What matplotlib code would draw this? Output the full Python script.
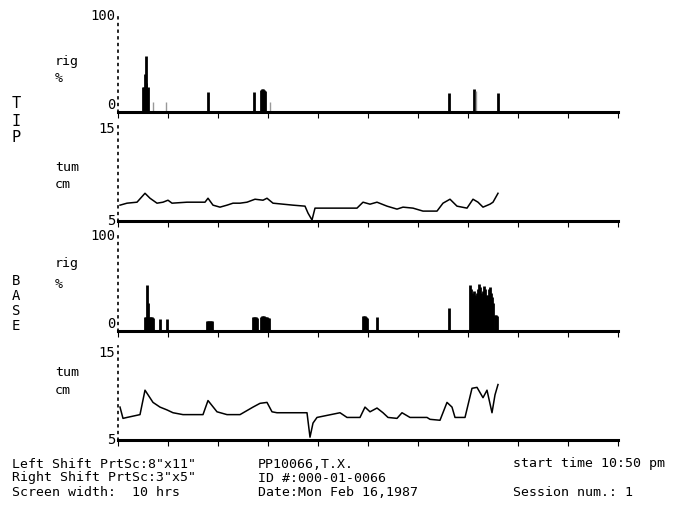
import matplotlib.pyplot as plt

# --- RigiScan session, hours since start ---
tip_rig_t = [0.50, 0.52, 0.54, 0.55, 0.57, 0.59, 1.80, 2.72, 2.86, 2.88, 2.90,
             2.92, 2.94, 6.62, 7.12, 7.60]
tip_rig_v = [26, 26, 40, 58, 30, 26, 21, 21, 23, 24, 24, 23, 22, 20, 24, 20]
tip_faint_t = [0.70, 0.96, 3.04, 7.16]
tip_faint_v = [10, 10, 10, 22]

tip_tum_t = [0.04, 0.18, 0.38, 0.54, 0.64, 0.78, 0.90, 1.00, 1.08, 1.38, 1.74,
             1.80, 1.90, 2.04, 2.18, 2.30, 2.44, 2.58, 2.74, 2.90, 2.98, 3.10,
             3.30, 3.50, 3.74, 3.80, 3.88, 3.94, 4.44, 4.78, 4.90, 5.04, 5.18,
             5.38, 5.58, 5.70, 5.90, 6.10, 6.38, 6.50, 6.64, 6.78, 6.98, 7.10,
             7.20, 7.30, 7.44, 7.50, 7.60]
tip_tum_v = [6.6, 6.8, 6.9, 7.8, 7.3, 6.8, 6.9, 7.1, 6.8, 6.9, 6.9, 7.3, 6.6,
             6.4, 6.6, 6.8, 6.8, 6.9, 7.2, 7.1, 7.3, 6.8, 6.7, 6.6, 6.5, 5.8,
             5.1, 6.3, 6.3, 6.3, 6.9, 6.7, 6.9, 6.5, 6.2, 6.4, 6.3, 6.0, 6.0,
             6.8, 7.2, 6.5, 6.3, 7.2, 6.9, 6.4, 6.7, 6.9, 7.8]

base_rig_t = [0.54, 0.56, 0.58, 0.60, 0.62, 0.64, 0.66, 0.68, 0.70, 0.84, 0.98,
              1.78, 1.80, 1.82, 1.84, 1.86, 1.88, 2.70, 2.72, 2.74, 2.76, 2.78,
              2.86, 2.88, 2.90, 2.92, 2.94, 2.96, 2.98, 3.00, 3.02,
              4.90, 4.92, 4.94, 4.96, 4.98, 5.18, 6.62,
              7.04, 7.06, 7.08, 7.10, 7.12, 7.14, 7.16, 7.18, 7.20, 7.22, 7.24,
              7.26, 7.28, 7.30, 7.32, 7.34, 7.36, 7.38, 7.40, 7.42, 7.44, 7.46,
              7.48, 7.50, 7.54, 7.56, 7.58]
base_rig_v = [15, 15, 48, 30, 15, 15, 15, 15, 14, 13, 13,
              11, 11, 11, 11, 11, 11, 15, 15, 15, 15, 14,
              15, 16, 16, 16, 15, 15, 15, 14, 14,
              16, 16, 16, 15, 14, 15, 24,
              48, 44, 40, 38, 42, 38, 36, 40, 44, 50, 46,
              40, 36, 42, 47, 44, 38, 35, 38, 44, 46, 40,
              36, 30, 17, 17, 16]

base_tum_t = [0.04, 0.10, 0.18, 0.44, 0.54, 0.70, 0.84, 0.98, 1.10, 1.30, 1.70,
              1.80, 1.98, 2.18, 2.44, 2.70, 2.84, 2.98, 3.08, 3.18, 3.78, 3.84,
              3.90, 3.98, 4.44, 4.58, 4.84, 4.94, 5.04, 5.18, 5.30, 5.40, 5.58,
              5.68, 5.84, 6.18, 6.24, 6.44, 6.58, 6.68, 6.74, 6.94, 7.08, 7.18,
              7.30, 7.38, 7.48, 7.54, 7.60]
base_tum_v = [8.5, 7.3, 7.4, 7.7, 10.3, 9.0, 8.5, 8.2, 7.9, 7.7, 7.7, 9.2, 8.0,
              7.7, 7.7, 8.5, 8.9, 9.0, 8.0, 7.9, 7.9, 5.3, 6.8, 7.4, 7.9, 7.4,
              7.4, 8.5, 8.0, 8.4, 7.9, 7.4, 7.3, 7.9, 7.4, 7.4, 7.2, 7.1, 9.0,
              8.5, 7.4, 7.4, 10.5, 10.6, 9.5, 10.3, 7.9, 9.8, 10.9]

hours = list(range(11))
footer_left = ['Left Shift PrtSc:8"x11"', 'Right Shift PrtSc:3"x5"', 'Screen width:  10 hrs']
footer_mid = ['PP10066,T.X.', 'ID #:000-01-0066', 'Date:Mon Feb 16,1987']
footer_right = ['start time 10:50 pm', '', 'Session num.: 1']

MONO = "DejaVu Sans Mono"
W, H = 673, 517
fig = plt.figure(figsize=(W / 100, H / 100), dpi=100)


def panel(top_px, bot_px, ylim, ylabels, va_lo, va_hi):
    ax = fig.add_axes([118 / W, 1 - bot_px / H, 500 / W, (bot_px - top_px) / H])
    ax.set_xlim(0, 10)
    ax.set_ylim(*ylim)
    for s in ["top", "right"]:
        ax.spines[s].set_visible(False)
    ax.spines["left"].set_linestyle((0, (1, 3)))
    ax.spines["left"].set_linewidth(1.2)
    ax.spines["bottom"].set_linewidth(2.2)
    ax.set_xticks(hours)
    ax.set_xticklabels([])
    ax.tick_params(axis="x", direction="out", length=4, width=0.8)
    ax.set_yticks(ylim)
    ax.set_yticklabels(ylabels, fontfamily=MONO, fontsize=10)
    ax.tick_params(axis="y", length=0, pad=2)
    lo, hi = ax.get_yticklabels()
    lo.set_va(va_lo)
    hi.set_va(va_hi)
    return ax


ax1 = panel(16, 112, (0, 100), ["0", "100"], "bottom", "center")
ax1.vlines(tip_rig_t, 0, tip_rig_v, color="black", lw=2)
ax1.vlines(tip_faint_t, 0, tip_faint_v, color="0.6", lw=1)

ax2 = panel(122, 221, (5, 15), ["5", "15"], "center", "top")
ax2.plot(tip_tum_t, tip_tum_v, color="black", lw=1.1)

ax3 = panel(236, 331, (0, 100), ["0", "100"], "bottom", "center")
ax3.vlines(base_rig_t, 0, base_rig_v, color="black", lw=2)

ax4 = panel(346, 440, (5, 15), ["5", "15"], "center", "top")
ax4.plot(base_tum_t, base_tum_v, color="black", lw=1.1)


def ftext(x_px, y_px, s, **kw):
    fig.text(x_px / W, 1 - y_px / H, s, fontfamily=MONO, fontsize=kw.pop("size", 9.5),
             va="center", ha=kw.pop("ha", "left"), **kw)


# side labels
for y, s in [(62, "rig"), (78, "%"), (168, "tum"), (184, "cm"),
             (264, "rig"), (284, "%"), (373, "tum"), (390, "cm")]:
    ftext(55, y, s)
for y, s in zip([104, 121, 138], "TIP"):
    ftext(16, y, s, ha="center", size=11)
for y, s in zip([281, 296, 311, 326], "BASE"):
    ftext(16, y, s, ha="center", size=10)

# footer
for i in range(3):
    y = 464 + 14 * i
    ftext(12, y, footer_left[i])
    ftext(258, y, footer_mid[i])
    ftext(513, y, footer_right[i])

fig.savefig("out.png", dpi=100, facecolor="white")
